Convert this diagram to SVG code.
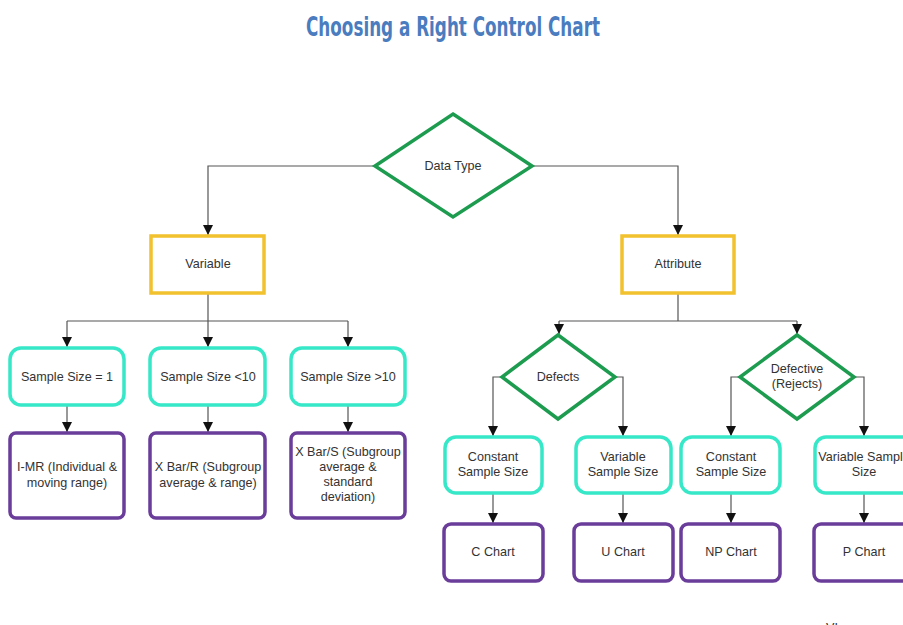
<svg xmlns="http://www.w3.org/2000/svg" width="903" height="625" viewBox="0 0 903 625">
<defs>
<style>
.t{font-family:"Liberation Sans",Arial,sans-serif;font-size:12.6px;fill:#333;text-anchor:middle}
.dia{fill:#fff;stroke:#1d9c50;stroke-width:3.5}
.yel{fill:#fff;stroke:#f2c12e;stroke-width:3.5}
.cy{fill:#fff;stroke:#36e8c8;stroke-width:3.5}
.pu{fill:#fff;stroke:#6a3d9a;stroke-width:3.5}
.c{fill:none;stroke:#555;stroke-width:1.2}
</style>
<marker id="ah" markerUnits="userSpaceOnUse" markerWidth="10" markerHeight="10" viewBox="0 0 10 10" refX="10" refY="5" orient="auto">
<path d="M0,0 L10,5 L0,10 z" fill="#111"/>
</marker>
</defs>
<rect width="903" height="625" fill="#fff"/>
<text x="453" y="36" font-family="'Liberation Sans Narrow','DejaVu Sans Condensed',sans-serif" font-weight="bold" font-size="27" fill="#4a7cc0" text-anchor="middle" textLength="294" lengthAdjust="spacingAndGlyphs">Choosing a Right Control Chart</text>

<g id="connectors">
<path class="c" marker-end="url(#ah)" d="M375,166 H208 V235"/>
<path class="c" marker-end="url(#ah)" d="M532,166 H678 V235"/>
<path class="c" d="M208,293 V321 M67,321 H348 M678,293 V321 M559,321 H797"/>
<path class="c" marker-end="url(#ah)" d="M67,321 V347"/>
<path class="c" marker-end="url(#ah)" d="M208,321 V347"/>
<path class="c" marker-end="url(#ah)" d="M348,321 V347"/>
<path class="c" marker-end="url(#ah)" d="M67,405 V432"/>
<path class="c" marker-end="url(#ah)" d="M208,405 V432"/>
<path class="c" marker-end="url(#ah)" d="M348,405 V432"/>
<path class="c" marker-end="url(#ah)" d="M559,321 V334"/>
<path class="c" marker-end="url(#ah)" d="M797,321 V334"/>
<path class="c" marker-end="url(#ah)" d="M502,377 H493 V436"/>
<path class="c" marker-end="url(#ah)" d="M615,377 H623 V436"/>
<path class="c" marker-end="url(#ah)" d="M740,377 H731 V436"/>
<path class="c" marker-end="url(#ah)" d="M854,377 H864 V436"/>
<path class="c" marker-end="url(#ah)" d="M493,493 V523"/>
<path class="c" marker-end="url(#ah)" d="M623,493 V523"/>
<path class="c" marker-end="url(#ah)" d="M731,493 V523"/>
<path class="c" marker-end="url(#ah)" d="M864,493 V523"/>
</g>

<g id="data-type"><polygon class="dia" points="453,114 532,166 453,217 375,166"/><text class="t" x="453" y="170">Data Type</text></g>
<g id="variable"><rect class="yel" x="151" y="236" width="113" height="57"/><text class="t" x="208" y="268">Variable</text></g>
<g id="attribute"><rect class="yel" x="622" y="236" width="112" height="57"/><text class="t" x="678" y="268">Attribute</text></g>

<g id="ss1"><rect class="cy" x="10" y="348" width="114" height="57" rx="11"/><text class="t" x="67" y="381">Sample Size = 1</text></g>
<g id="ss2"><rect class="cy" x="150" y="348" width="115" height="57" rx="11"/><text class="t" x="208" y="381">Sample Size &lt;10</text></g>
<g id="ss3"><rect class="cy" x="291" y="348" width="114" height="57" rx="11"/><text class="t" x="348" y="381">Sample Size &gt;10</text></g>

<g id="imr"><rect class="pu" x="10" y="433" width="114" height="85" rx="6"/><text class="t" x="67" y="471">I-MR (Individual &amp;</text><text class="t" x="67" y="487">moving range)</text></g>
<g id="xbar-r"><rect class="pu" x="150" y="433" width="115" height="85" rx="6"/><text class="t" x="208" y="471">X Bar/R (Subgroup</text><text class="t" x="208" y="487">average &amp; range)</text></g>
<g id="xbar-s"><rect class="pu" x="291" y="433" width="114" height="85" rx="6"/><text class="t" x="348" y="456">X Bar/S (Subgroup</text><text class="t" x="348" y="471">average &amp;</text><text class="t" x="348" y="486">standard</text><text class="t" x="348" y="501">deviation)</text></g>

<g id="defects"><polygon class="dia" points="558,335 615,377 558,419 502,377"/><text class="t" x="558" y="381">Defects</text></g>
<g id="defective"><polygon class="dia" points="797,335 854,377 797,419 740,377"/><text class="t" x="797" y="373">Defective</text><text class="t" x="797" y="388">(Rejects)</text></g>

<g id="const1"><rect class="cy" x="445" y="437" width="97" height="56" rx="11"/><text class="t" x="493" y="461">Constant</text><text class="t" x="493" y="476">Sample Size</text></g>
<g id="var1"><rect class="cy" x="576" y="437" width="95" height="56" rx="11"/><text class="t" x="623" y="461">Variable</text><text class="t" x="623" y="476">Sample Size</text></g>
<g id="const2"><rect class="cy" x="681" y="437" width="99" height="56" rx="11"/><text class="t" x="731" y="461">Constant</text><text class="t" x="731" y="476">Sample Size</text></g>
<g id="var2"><rect class="cy" x="815" y="437" width="98" height="56" rx="11"/><text class="t" x="864" y="461">Variable Sample</text><text class="t" x="864" y="476">Size</text></g>

<g id="c-chart"><rect class="pu" x="444" y="524" width="99" height="57" rx="7"/><text class="t" x="493" y="556">C Chart</text></g>
<g id="u-chart"><rect class="pu" x="574" y="524" width="99" height="57" rx="7"/><text class="t" x="623" y="556">U Chart</text></g>
<g id="np-chart"><rect class="pu" x="681" y="524" width="99" height="57" rx="7"/><text class="t" x="731" y="556">NP Chart</text></g>
<g id="p-chart"><rect class="pu" x="814" y="524" width="99" height="57" rx="7"/><text class="t" x="864" y="556">P Chart</text></g>

<text class="t" x="832" y="632" font-size="13">VI</text>
</svg>
